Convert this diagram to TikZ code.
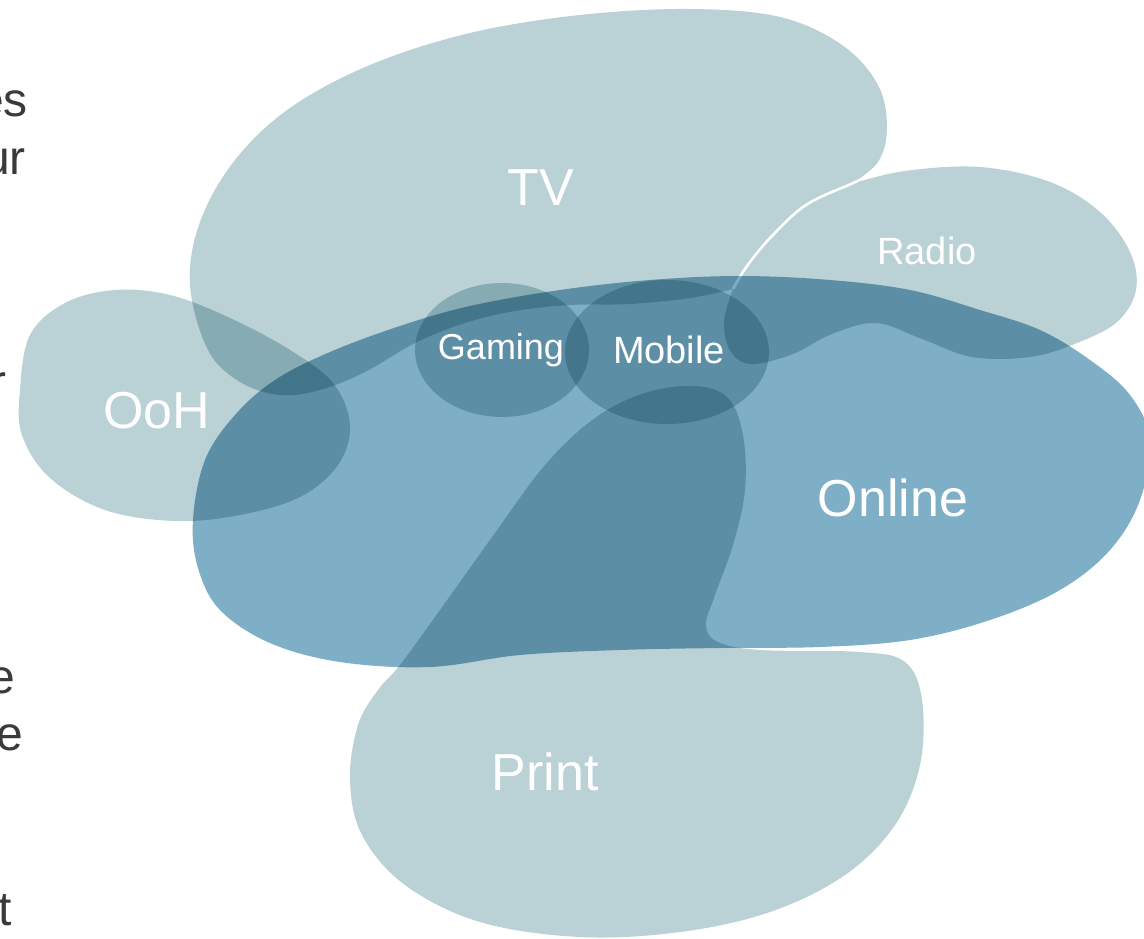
\documentclass[tikz,border=0pt]{standalone}
\usepackage{fontspec}
\setmainfont{Liberation Sans}
\begin{document}
\begin{tikzpicture}[x=1pt,y=-1pt]
\definecolor{paleblob}{RGB}{186,209,214}
\definecolor{onlineblob}{RGB}{127,175,198}
\definecolor{sidetext}{RGB}{58,58,58}
\tikzset{
  paleshape/.style={fill=paleblob, draw=none},
  onlineshape/.style={fill=onlineblob, draw=none},
  seam/.style={draw=white, line width=2.6pt, blend mode=normal},
  biglabel/.style={text=white, font=\fontsize{52}{52}\selectfont, inner sep=0pt},
  smalllabel/.style={text=white, font=\fontsize{38}{38}\selectfont, inner sep=0pt},
  cuttext/.style={text=sidetext, font=\fontsize{48}{48}\selectfont, inner sep=0pt, anchor=base east}
}
% edge shared by TV and Radio
\def\sharededge{(851,184) (806,205) (771,237) (747,266) (733,289)}
\useasboundingbox (0,0) rectangle (1144,939);
\fill[white] (0,0) rectangle (1144,939);

% cut-off lines of a text column at the left edge
\begin{scope}
  \clip (0,0) rectangle (1144,939);
  \node[cuttext] (txta) at (28,117) {es};
  \node[cuttext] (txtb) at (26,175) {ur};
  \node[cuttext] (txtc) at (7,398) {r};
  \node[cuttext] (txtd) at (15,693) {e};
  \node[cuttext] (txte) at (23,750) {e};
  \node[cuttext] (txtf) at (12,925) {t};
\end{scope}

\begin{scope}
  \clip (0,0) rectangle (1144,939);
  \begin{scope}[blend group=multiply]
    % TV
    \fill[paleshape] plot[smooth, tension=0.6] coordinates {
      (733,289) (690,298) (630,304) (570,305)
      (515,311) (465,323) (415,343) (365,372) (320,390) (280,395) (240,382)
      (208,350) (190,285) (200,222) (235,160) (290,108) (370,65) (470,33)
      (580,15) (690,9) (780,17) (842,45) (878,85) (887,128) (878,162) (851,184)}
      -- plot[smooth, tension=0.6] coordinates \sharededge -- cycle;
    % Radio
    \fill[paleshape] plot[smooth, tension=0.6] coordinates {
      (851,184) (905,171) (980,167) (1050,182) (1100,212) (1130,252)
      (1136,290) (1117,322) (1077,343) (1030,357) (972,357) (922,339)
      (876,323) (832,334) (793,354) (752,364) (731,352) (724,322) (733,289)}
      -- plot[smooth, tension=0.6] coordinates {(733,289) (747,266) (771,237) (806,205) (851,184)}
      -- cycle;
    % white seam between TV and Radio
    \draw[seam] plot[smooth, tension=0.6] coordinates {(858,181) (851,184) (806,205) (771,237) (747,266) (733,289)};
    % OoH
    \fill[paleshape] plot[smooth cycle, tension=0.6] coordinates {
      (20,390) (30,335) (65,303) (115,290) (170,295) (230,318) (290,350)
      (333,383) (350,425) (338,465) (300,497) (240,515) (175,521)
      (105,510) (50,478) (22,435)};
    % Print
    \fill[paleshape] plot[smooth cycle, tension=0.6] coordinates {
      (400,665) (440,610) (490,540) (545,465) (595,418) (645,393) (695,386)
      (728,398) (743,435) (745,490) (733,545) (715,595) (706,625) (718,642)
      (760,650) (860,652) (905,662) (922,700) (920,765) (895,825) (845,875)
      (770,912) (680,932) (580,937) (480,922) (405,885) (362,835) (350,780)
      (358,725) (378,690)};
    % Online
    \fill[onlineshape] plot[smooth cycle, tension=0.6] coordinates {
      (193,520) (205,460) (235,415) (275,380) (330,352) (400,326) (470,306)
      (560,290) (650,280) (740,276) (830,280) (910,290) (980,310) (1040,330)
      (1090,360) (1130,395) (1150,440) (1140,500) (1110,550) (1060,590)
      (990,620) (910,640) (820,647) (720,648) (620,650) (520,655) (430,667)
      (340,662) (270,643) (220,610) (198,568)};
    % Gaming and Mobile
    \fill[paleshape] (502,350) ellipse [x radius=87, y radius=67];
    \fill[paleshape] (667,352) ellipse [x radius=102, y radius=72];
  \end{scope}
\end{scope}

\node[biglabel] (tv) at (541,188) {TV};
\node[smalllabel] (radio) at (927,251) {Radio};
\node[biglabel] (ooh) at (157,411) {OoH};
\node[smalllabel, font=\fontsize{36}{36}\selectfont] (gaming) at (501,350) {Gaming};
\node[smalllabel] (mobile) at (669,350) {Mobile};
\node[biglabel] (online) at (893,498) {Online};
\node[biglabel] (print) at (545,772) {Print};
\end{tikzpicture}
\end{document}
